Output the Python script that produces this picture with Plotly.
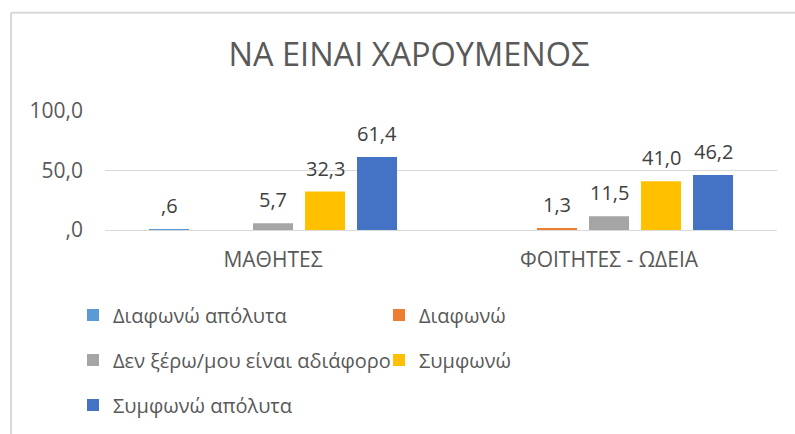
import plotly.graph_objects as go

categories = ["ΜΑΘΗΤΕΣ", "ΦΟΙΤΗΤΕΣ - ΩΔΕΙΑ"]
series_names = ["Διαφωνώ απόλυτα", "Διαφωνώ", "Δεν ξέρω/μου είναι αδιάφορο", "Συμφωνώ", "Συμφωνώ απόλυτα"]
series_values = [
    [0.6, None],
    [None, 1.3],
    [5.7, 11.5],
    [32.3, 41.0],
    [61.4, 46.2],
]
colors = ["#5B9BD5", "#ED7D31", "#A5A5A5", "#FFC000", "#4472C4"]
legend_ids = ["legend", "legend", "legend2", "legend2", "legend3"]
tick_vals = [0, 50, 100]
tick_text = [",0", "50,0", "100,0"]
title_text = "ΝΑ ΕΙΝΑΙ ΧΑΡΟΥΜΕΝΟΣ"

W, H = 795, 434
L, R, T, B = 105, 18, 111, 203
PW = W - L - R
PH = H - T - B
FONT = "Open Sans"
TXT = "#595959"
SLOT = 52  # px per bar slot inside a group
LABEL_GAP = 8


def fmt(v):
    if v is None:
        return ""
    s = f"{v:.1f}".replace(".", ",")
    if s.startswith("0,"):
        s = s[1:]
    return s


def px_x(p):
    return (p - L) / PW


def px_y(p):
    return (H - B - p) / PH


fig = go.Figure()
annotations = []
n = len(series_names)
for i, (name, vals, col, lg) in enumerate(zip(series_names, series_values, colors, legend_ids)):
    fig.add_trace(go.Bar(
        name=name, x=categories, y=vals, marker_color=col, marker_line_width=0,
        legend=lg, hoverinfo="x+y+name",
    ))
    for c, v in zip(categories, vals):
        if v is None:
            continue
        annotations.append(dict(
            x=c, y=v, xref="x", yref="y", text=fmt(v), showarrow=False,
            xanchor="center", yanchor="bottom",
            xshift=(i - (n - 1) / 2) * SLOT, yshift=LABEL_GAP,
            font=dict(family=FONT, size=20, color="#404040"),
        ))

leg_common = dict(orientation="h", xanchor="left", yanchor="middle",
                  entrywidth=261, entrywidthmode="pixels",
                  font=dict(family=FONT, size=20, color=TXT),
                  bgcolor="rgba(0,0,0,0)", traceorder="normal")

fig.update_layout(
    width=W, height=H,
    margin=dict(l=L, r=R, t=T, b=B),
    paper_bgcolor="white", plot_bgcolor="white",
    barmode="group", bargap=0.226, bargroupgap=0.23,
    title=dict(text=title_text, xref="container", yref="container",
               x=409 / W, y=1 - 55 / H, xanchor="center", yanchor="middle",
               font=dict(family=FONT, size=32.5, color=TXT)),
    showlegend=True,
    legend=dict(x=px_x(73), y=px_y(315), **leg_common),
    legend2=dict(x=px_x(73), y=px_y(360), **leg_common),
    legend3=dict(x=px_x(73), y=px_y(405), **leg_common),
    xaxis=dict(showgrid=False, showline=False, zeroline=False, ticks="",
               tickfont=dict(family=FONT, size=21, color=TXT),
               ticklabelstandoff=15, fixedrange=True),
    yaxis=dict(range=[0, 100], tickvals=tick_vals, ticktext=tick_text,
               showgrid=True, gridcolor="#D9D9D9", gridwidth=1.3,
               zeroline=True, zerolinecolor="#D9D9D9", zerolinewidth=1.3,
               showline=False, ticks="",
               tickfont=dict(family=FONT, size=21, color=TXT),
               ticklabelstandoff=21, fixedrange=True),
    annotations=annotations,
    shapes=[
        dict(type="line", xref="paper", yref="paper", x0=px_x(11), x1=px_x(800),
             y0=px_y(12), y1=px_y(12), line=dict(color="#D9D9D9", width=2)),
        dict(type="line", xref="paper", yref="paper", x0=px_x(11), x1=px_x(11),
             y0=px_y(12), y1=px_y(440), line=dict(color="#D9D9D9", width=2)),
    ],
)

fig.write_html("out.html", config={"displayModeBar": False},
               post_script="document.body.style.margin='0';")
